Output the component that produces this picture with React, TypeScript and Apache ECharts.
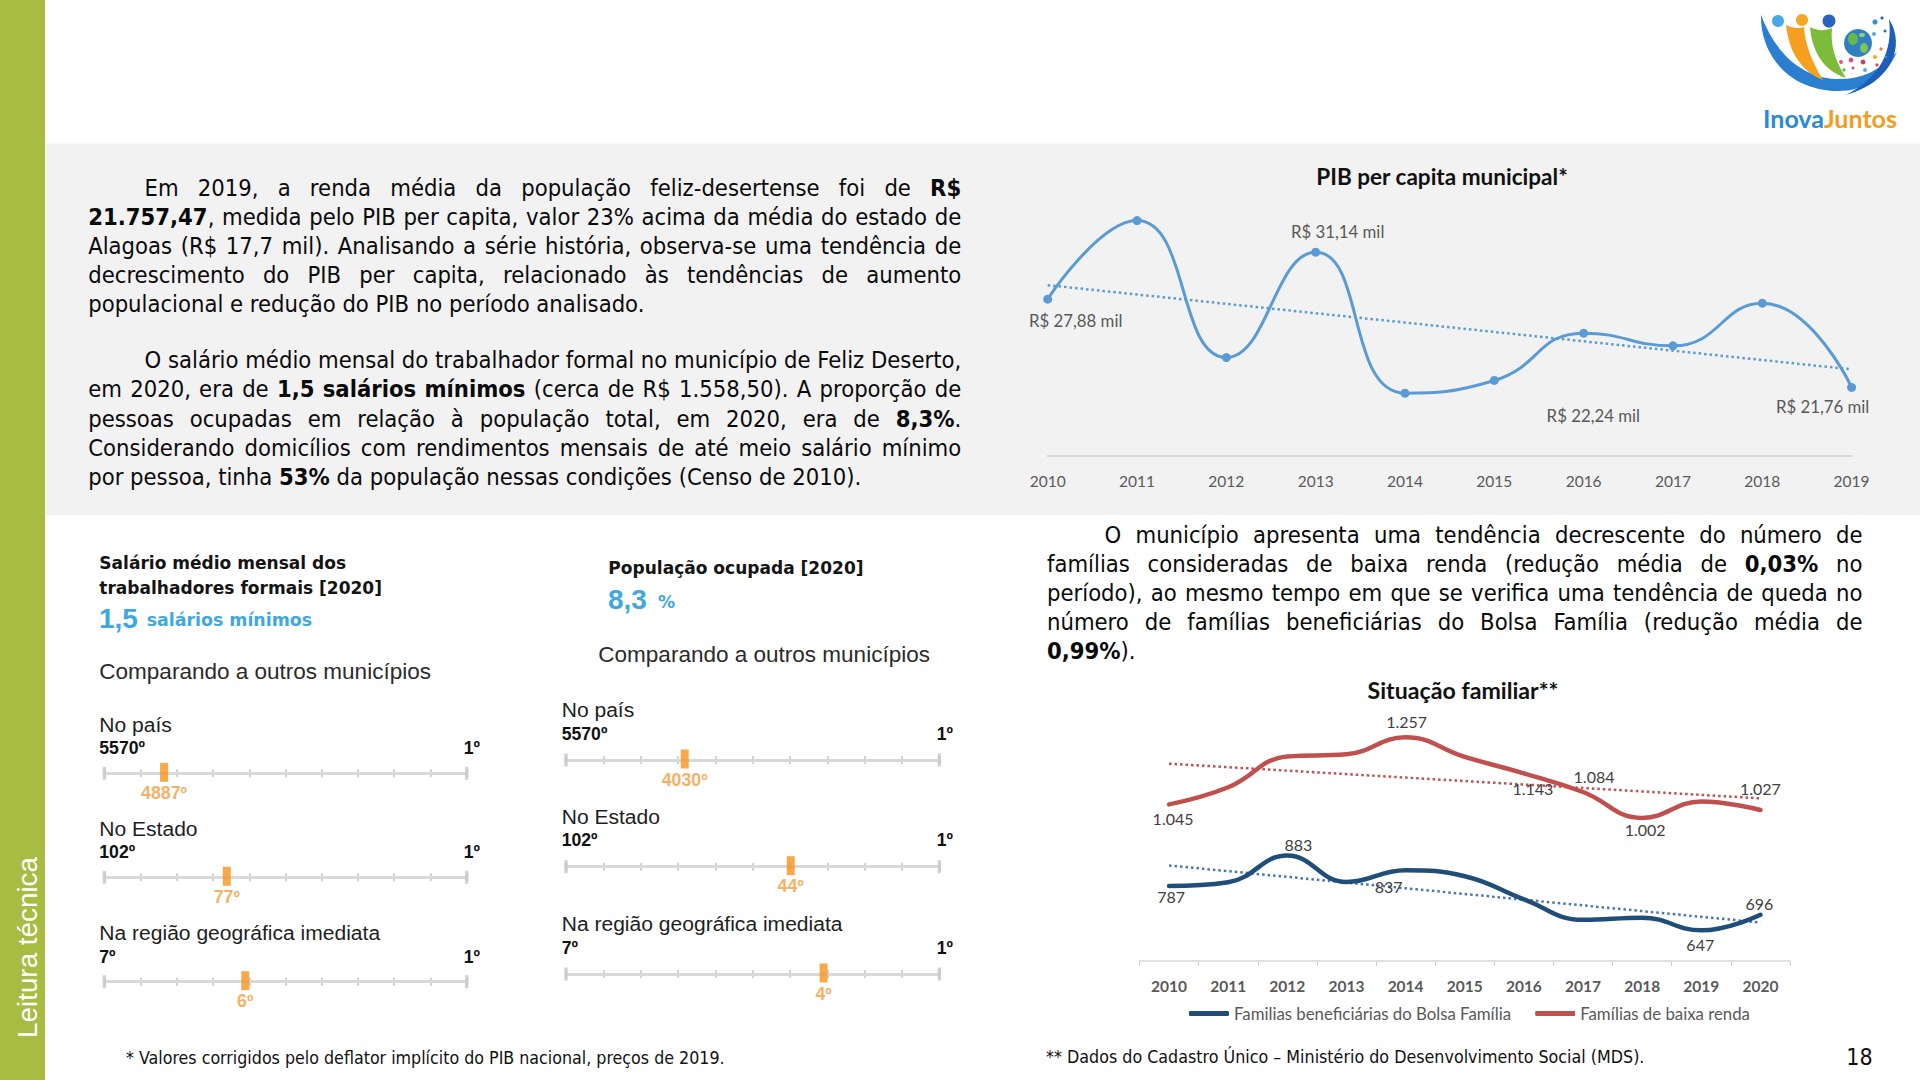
import React, { useEffect, useRef } from 'react';
import * as echarts from 'echarts';

// ---------------- DATA ----------------
const pibYears = ['2010', '2011', '2012', '2013', '2014', '2015', '2016', '2017', '2018', '2019'];
const pibValues = [27.88, 33.33, 23.83, 31.14, 21.36, 22.24, 25.52, 24.64, 27.6, 21.76];

const famYears = ['2010', '2011', '2012', '2013', '2014', '2015', '2016', '2017', '2018', '2019', '2020'];
const bolsaFamilia = [787, 799, 883, 800, 837, 818, 745, 680, 687, 647, 696];
const baixaRenda = [1045, 1099, 1196, 1203, 1257, 1195, 1143, 1084, 1002, 1054, 1027];
const famSeriesNames = ['Familias beneficiárias do Bolsa Família', 'Famílias de baixa renda'];

const rankScopes = ['No país', 'No Estado', 'Na região geográfica imediata'];
const rankTotals = ['5570º', '102º', '7º'];
const salarioRanks = ['4887º', '77º', '6º'];
const salarioScale = [16.5, 33.8, 38.9];
const ocupadaRanks = ['4030º', '44º', '4º'];
const ocupadaScale = [31.8, 60.2, 69.0];

const p1Lines = [
  'Em 2019, a renda média da população feliz-desertense foi de **R$**',
  '**21.757,47**, medida pelo PIB per capita, valor 23% acima da média do estado de',
  'Alagoas (R$ 17,7 mil). Analisando a série história, observa-se uma tendência de',
  'decrescimento do PIB per capita, relacionado às tendências de aumento',
  'populacional e redução do PIB no período analisado.',
];
const p2Lines = [
  'O salário médio mensal do trabalhador formal no município de Feliz Deserto,',
  'em 2020, era de **1,5 salários mínimos** (cerca de R$ 1.558,50). A proporção de',
  'pessoas ocupadas em relação à população total, em 2020, era de **8,3%**.',
  'Considerando domicílios com rendimentos mensais de até meio salário mínimo',
  'por pessoa, tinha **53%** da população nessas condições (Censo de 2010).',
];
const p3Lines = [
  'O município apresenta uma tendência decrescente do número de',
  'famílias consideradas de baixa renda (redução média de **0,03%** no',
  'período), ao mesmo tempo em que se verifica uma tendência de queda no',
  'número de famílias beneficiárias do Bolsa Família (redução média de',
  '**0,99%**).',
];

// -------------- label placement (style) --------------
const pibLabelOffsets: Record<number, number[]> = { 0: [28, 21], 3: [22, -21], 5: [99, 35], 9: [-29, 19] };
const rendaLabelOffsets: Record<number, number[]> = { 0: [4, 14], 4: [1, -16], 6: [9, 15], 7: [11, -16], 8: [3, 12], 10: [0, -22] };
const bolsaLabelOffsets: Record<number, number[]> = { 0: [2, 11], 2: [11, -11], 4: [-17, 16], 9: [-1, 14], 10: [-1, -11] };

const F_PARA = '"DejaVu Sans Condensed", "DejaVu Sans", sans-serif';
const F_CHART = 'Lato, "Open Sans", sans-serif';
const F_ARIAL = '"Liberation Sans", Arial, sans-serif';
const F_VERD = '"DejaVu Sans", Verdana, sans-serif';

function linearTrend(vals: number[]): number[] {
  const n = vals.length;
  const mx = (n - 1) / 2;
  const my = vals.reduce((a, b) => a + b, 0) / n;
  let sxy = 0, sxx = 0;
  vals.forEach((v, i) => { sxy += (i - mx) * (v - my); sxx += (i - mx) * (i - mx); });
  const b = sxy / sxx;
  return vals.map((_, i) => +(my + b * (i - mx)).toFixed(4));
}

let measureCtx: CanvasRenderingContext2D | null = null;
function tw(text: string, size: number, family: string, weight = 'normal') {
  if (!measureCtx) measureCtx = document.createElement('canvas').getContext('2d');
  measureCtx!.font = `${weight} ${size}px ${family}`;
  return measureCtx!.measureText(text).width;
}
function fit(text: string, family: string, weight: string, target: number) {
  return (20 * target) / tw(text, 20, family, weight);
}

type Run = { t: string; b: boolean };
function tokens(line: string): Run[][] {
  const parts = line.split('**');
  const toks: Run[][] = [[]];
  parts.forEach((p, i) => {
    const bold = i % 2 === 1;
    p.split(' ').forEach((piece, j) => {
      if (j > 0) toks.push([]);
      if (piece) toks[toks.length - 1].push({ t: piece, b: bold });
    });
  });
  return toks.filter((t) => t.length > 0);
}
function runW(r: Run, size: number) {
  return tw(r.t, size, F_PARA, r.b ? 'bold' : 'normal');
}
function naturalW(line: string, size: number) {
  const tk = tokens(line);
  const sp = tw(' ', size, F_PARA);
  return tk.reduce((s, t) => s + t.reduce((a, r) => a + runW(r, size), 0), 0) + sp * (tk.length - 1);
}

function txt(x: number, y: number, text: string, size: number, family: string, opt: any = {}) {
  return {
    type: 'text',
    x,
    y,
    rotation: opt.rotation || 0,
    silent: true,
    z: 5,
    style: {
      text,
      fontSize: size,
      fontFamily: family,
      fontWeight: opt.weight || 'normal',
      fill: opt.color || '#0d0d0d',
      textAlign: opt.align || 'left',
      align: opt.align || 'left',
      textVerticalAlign: 'middle',
      verticalAlign: 'middle',
    },
  };
}

function paragraph(lines: string[], x: number, width: number, y0: number, lh: number, indent: number, size: number) {
  const els: any[] = [];
  lines.forEach((line, li) => {
    const tk = tokens(line);
    const isLast = li === lines.length - 1;
    const startX = x + (li === 0 ? indent : 0);
    const avail = x + width - startX;
    const widths = tk.map((t) => t.reduce((a, r) => a + runW(r, size), 0));
    const total = widths.reduce((a, b) => a + b, 0);
    const sp = tw(' ', size, F_PARA);
    const gap = isLast || tk.length < 2 ? sp : (avail - total) / (tk.length - 1);
    let cx = startX;
    tk.forEach((t) => {
      t.forEach((r) => {
        els.push(txt(cx, y0 + li * lh, r.t, size, F_PARA, { weight: r.b ? 'bold' : 'normal', color: '#0a0a0a' }));
        cx += runW(r, size);
      });
      cx += gap;
    });
  });
  return els;
}

function labeled(values: number[], offsets: Record<number, number[]>) {
  return values.map((v, i) =>
    offsets[i]
      ? { value: v, label: { show: true, position: 'inside', offset: offsets[i] } }
      : { value: v, label: { show: false } }
  );
}

const logoPaths: Record<string, string> = {
  logoBlue: 'M21,15 C20,52 46,90 98,91 C124,91 145,78 157,52 C139,72 119,80 96,79 C60,77 35,52 21,15 Z',
  logoOrange: 'M46,25 C49,52 61,71 83,80 C72,62 65,44 64,27 C58,29 52,28 46,25 Z',
  logoGreen: 'M70,27 C72,52 84,71 106,78 C96,62 90,46 92,28 C85,31 77,31 70,27 Z',
  logoArc: 'M149,19 C166,46 152,82 106,95 C140,77 153,52 149,19 Z',
};

export default function App() {
  const ref = useRef<HTMLDivElement>(null);
  useEffect(() => {
    document.body.style.margin = '0';
    Object.keys(logoPaths).forEach((k) => {
      echarts.graphic.registerShape(k, echarts.graphic.extendPath(logoPaths[k], {}) as any);
    });
    const chart = echarts.init(ref.current!, undefined, { renderer: 'svg' });

    // paragraph font size: calibrated to reference line width, limited so justified lines fit
    let ps = fit(p2Lines[4].replace(/\*\*/g, ''), F_PARA, 'normal', 779);
    const paras = [
      { lines: p1Lines, x: 88.2, w: 873, ind: 56.3 },
      { lines: p2Lines, x: 88.2, w: 873, ind: 56.3 },
      { lines: p3Lines, x: 1047, w: 815.5, ind: 57.5 },
    ];
    paras.forEach((p) =>
      p.lines.forEach((l, i) => {
        if (i === p.lines.length - 1) return;
        const avail = p.w - (i === 0 ? p.ind : 0);
        const n = naturalW(l, ps);
        if (n > avail) ps = (ps * avail) / n;
      })
    );

    const g: any[] = [];
    // backgrounds
    g.push({ type: 'rect', z: -10, silent: true, shape: { x: 0, y: 0, width: 45, height: 1080 }, style: { fill: '#a8bb43' } });
    g.push({ type: 'rect', z: -10, silent: true, shape: { x: 45, y: 143.5, width: 1875, height: 371.5 }, style: { fill: '#f2f2f2' } });
    g.push(txt(27, 947.5, 'Leitura técnica', fit('Leitura técnica', F_ARIAL, 'normal', 181), F_ARIAL, { color: '#ffffff', align: 'center', rotation: Math.PI / 2 }));

    // paragraphs
    g.push(...paragraph(p1Lines, 88.2, 873, 187.5, 29.05, 56.3, ps));
    g.push(...paragraph(p2Lines, 88.2, 873, 360.4, 29.05, 56.3, ps));
    g.push(...paragraph(p3Lines, 1047, 815.5, 534.6, 29.05, 57.5, ps));

    // chart titles
    g.push(txt(1442, 176.7, 'PIB per capita municipal*', fit('PIB per capita municipal*', F_CHART, 'bold', 252), F_CHART, { weight: 'bold', align: 'center', color: '#111' }));
    g.push(txt(1463, 690, 'Situação familiar**', fit('Situação familiar**', F_CHART, 'bold', 191), F_CHART, { weight: 'bold', align: 'center', color: '#111' }));

    // IBGE blocks headers
    const hs = fit('Salário médio mensal dos', F_VERD, 'bold', 247);
    g.push(txt(99.3, 563.3, 'Salário médio mensal dos', hs, F_VERD, { weight: 'bold', color: '#141414' }));
    g.push(txt(99.3, 587.7, 'trabalhadores formais [2020]', hs, F_VERD, { weight: 'bold', color: '#141414' }));
    g.push(txt(99, 618, '1,5', 28, F_ARIAL, { color: '#3ea8e0', weight: 'bold' }));
    g.push(txt(146.7, 620, 'salários mínimos', fit('salários mínimos', F_VERD, 'bold', 165.6), F_VERD, { weight: 'bold', color: '#3ea8e0' }));
    g.push(txt(608.3, 568.3, 'População ocupada [2020]', hs, F_VERD, { weight: 'bold', color: '#141414' }));
    g.push(txt(608, 599.5, '8,3', 28, F_ARIAL, { color: '#3ea8e0', weight: 'bold' }));
    g.push(txt(658, 602, '%', hs, F_VERD, { weight: 'bold', color: '#3ea8e0' }));
    const cs = fit('Comparando a outros municípios', F_ARIAL, 'normal', 332);
    g.push(txt(99.3, 671.7, 'Comparando a outros municípios', cs, F_ARIAL, { color: '#2b2b2b' }));
    g.push(txt(598.3, 654, 'Comparando a outros municípios', cs, F_ARIAL, { color: '#2b2b2b' }));

    // slider blocks
    const blocks = [
      { x0: 104.3, x1: 466.7, ys: [773.3, 877.3, 981.7], tx: 99.3, bx: 480, titleDy: -49, rankDy: -25, ranks: salarioRanks, scale: salarioScale },
      { x0: 566, x1: 939.3, ys: [760, 866.7, 974], tx: 561.7, bx: 953, titleDy: -50.5, rankDy: -26.3, ranks: ocupadaRanks, scale: ocupadaScale },
    ];
    const ss = fit('Na região geográfica imediata', F_ARIAL, 'normal', 281);
    const rs = fit('5570º', F_ARIAL, 'bold', 45.7);
    const ms = fit('4887º', F_ARIAL, 'bold', 46);
    const grids: any[] = [];
    const xAxes: any[] = [];
    const yAxes: any[] = [];
    const series: any[] = [];

    // grid 0: PIB
    grids.push({ left: 1047.7, right: 68.4, top: 196.5, bottom: 624 });
    xAxes.push({
      gridIndex: 0, type: 'category', boundaryGap: false, data: pibYears,
      axisLine: { lineStyle: { color: '#d9d9d9', width: 2 } }, axisTick: { show: false },
      axisLabel: { color: '#595959', fontSize: 15.5, fontFamily: F_CHART, margin: 17 },
    });
    yAxes.push({ gridIndex: 0, type: 'value', min: 17, max: 35, show: false, splitLine: { show: false } });
    series.push({
      name: 'PIB per capita', type: 'line', xAxisIndex: 0, yAxisIndex: 0, data: labeled(pibValues, pibLabelOffsets),
      smooth: 0.5, symbol: 'circle', symbolSize: 9, z: 4,
      lineStyle: { color: '#5b9bd5', width: 3 }, itemStyle: { color: '#5b9bd5' },
      label: {
        color: '#595959', fontSize: 16.8, fontFamily: F_CHART,
        formatter: (p: any) => 'R$ ' + Number(p.value).toFixed(2).replace('.', ',') + ' mil',
      },
    });
    series.push({
      name: 'pib-trend', type: 'line', xAxisIndex: 0, yAxisIndex: 0, data: linearTrend(pibValues),
      symbol: 'none', z: 3, lineStyle: { color: '#5b9bd5', width: 2.5, type: [2.5, 3] },
    });

    // grid 1: Situação familiar
    grids.push({ left: 1139.5, right: 130, top: 692, bottom: 119 });
    xAxes.push({
      gridIndex: 1, type: 'category', boundaryGap: true, data: famYears,
      axisLine: { lineStyle: { color: '#d9d9d9', width: 1.5 } },
      axisTick: { show: true, length: 5, lineStyle: { color: '#d0d0d0' } },
      axisLabel: { color: '#595959', fontSize: 15.5, fontWeight: 'bold', fontFamily: F_CHART, margin: 17 },
    });
    yAxes.push({ gridIndex: 1, type: 'value', min: 550, max: 1400, show: false, splitLine: { show: false } });
    const famLabel = { color: '#404040', fontSize: 16, fontFamily: F_CHART, formatter: (p: any) => Number(p.value).toLocaleString('pt-BR') };
    series.push({
      name: famSeriesNames[0], type: 'line', xAxisIndex: 1, yAxisIndex: 1, data: labeled(bolsaFamilia, bolsaLabelOffsets),
      smooth: 0.45, symbol: 'circle', symbolSize: 1, z: 4,
      lineStyle: { color: '#1f4e79', width: 4.5, cap: 'round' }, itemStyle: { color: '#1f4e79' }, label: famLabel,
    });
    series.push({
      name: famSeriesNames[1], type: 'line', xAxisIndex: 1, yAxisIndex: 1, data: labeled(baixaRenda, rendaLabelOffsets),
      smooth: 0.45, symbol: 'circle', symbolSize: 1, z: 4,
      lineStyle: { color: '#c0504d', width: 4.5, cap: 'round' }, itemStyle: { color: '#c0504d' }, label: famLabel,
    });
    series.push({
      name: 'bolsa-trend', type: 'line', xAxisIndex: 1, yAxisIndex: 1, data: linearTrend(bolsaFamilia),
      symbol: 'none', z: 3, lineStyle: { color: '#4a73b8', width: 2.5, type: [2.5, 3] },
    });
    series.push({
      name: 'renda-trend', type: 'line', xAxisIndex: 1, yAxisIndex: 1, data: linearTrend(baixaRenda),
      symbol: 'none', z: 3, lineStyle: { color: '#c0504d', width: 2.5, type: [2.5, 3] },
    });

    blocks.forEach((b) => {
      b.ys.forEach((ly, i) => {
        g.push(txt(b.tx, ly + b.titleDy, rankScopes[i], ss, F_ARIAL, { color: '#1e1e1e' }));
        g.push(txt(b.tx, ly + b.rankDy, rankTotals[i], rs, F_ARIAL, { weight: 'bold', color: '#111' }));
        g.push(txt(b.bx, ly + b.rankDy, '1º', rs, F_ARIAL, { weight: 'bold', color: '#111', align: 'right' }));
        const gi = grids.length;
        grids.push({ left: b.x0, width: b.x1 - b.x0, top: ly - 4, height: 8 });
        xAxes.push({
          gridIndex: gi, type: 'value', min: 0, max: 100, interval: 10,
          axisLine: { show: true, onZero: true, lineStyle: { color: '#d9d9d9', width: 3 } },
          axisTick: { show: false }, axisLabel: { show: false },
          splitLine: { show: true, lineStyle: { color: '#c3c3c3', width: 1.5 } },
        });
        yAxes.push({ gridIndex: gi, type: 'value', min: -1, max: 1, show: false, splitLine: { show: false } });
        series.push({
          type: 'scatter', xAxisIndex: gi, yAxisIndex: gi, clip: false, silent: true,
          data: [[0, 0], [100, 0]], symbol: 'rect', symbolSize: [3.5, 13], itemStyle: { color: '#c8c8c8' }, z: 3,
        });
        series.push({
          type: 'scatter', xAxisIndex: gi, yAxisIndex: gi, clip: false, silent: true,
          data: [[b.scale[i], 0]], symbol: 'rect', symbolSize: [8, 19], symbolOffset: [0, -1],
          itemStyle: { color: '#f7941d' }, z: 4,
          label: {
            show: true, position: 'bottom', distance: 2, formatter: () => b.ranks[i],
            color: '#f59a38', fontSize: ms, fontWeight: 'bold', fontFamily: F_ARIAL,
          },
        });
      });
    });

    // footnotes
    g.push(txt(126, 1058, '* Valores corrigidos pelo deflator implícito do PIB nacional, preços de 2019.',
      fit('* Valores corrigidos pelo deflator implícito do PIB nacional, preços de 2019.', F_PARA, 'normal', 599), F_PARA, { color: '#111' }));
    g.push(txt(1046, 1057, '** Dados do Cadastro Único – Ministério do Desenvolvimento Social (MDS).',
      fit('** Dados do Cadastro Único – Ministério do Desenvolvimento Social (MDS).', F_PARA, 'normal', 599), F_PARA, { color: '#111' }));
    g.push(txt(1859.5, 1057, '18', 23, F_PARA, { color: '#111', align: 'center' }));

    // logo
    const LX = 1740;
    const logo: any[] = [
      { type: 'logoBlue', x: LX, y: 0, style: { fill: '#2a7fd0' } },
      { type: 'logoArc', x: LX, y: 0, style: { fill: '#1d5fb8' } },
      { type: 'logoOrange', x: LX, y: 0, style: { fill: '#f5a01e' } },
      { type: 'logoGreen', x: LX, y: 0, style: { fill: '#7dbb3a' } },
      { type: 'circle', shape: { cx: LX + 38, cy: 21, r: 6 }, style: { fill: '#4aa8e8' } },
      { type: 'circle', shape: { cx: LX + 62, cy: 20, r: 6 }, style: { fill: '#f5a623' } },
      { type: 'circle', shape: { cx: LX + 89, cy: 21, r: 6.5 }, style: { fill: '#2b62c0' } },
      { type: 'circle', shape: { cx: LX + 118, cy: 43, r: 14 }, style: { fill: '#2f7fc4' } },
      { type: 'ellipse', shape: { cx: LX + 113, cy: 39, rx: 5, ry: 6 }, style: { fill: '#69b84a' } },
      { type: 'ellipse', shape: { cx: LX + 124, cy: 48, rx: 4, ry: 5 }, style: { fill: '#7cc453' } },
      { type: 'ellipse', shape: { cx: LX + 122, cy: 35, rx: 3, ry: 2 }, style: { fill: '#9dd36a' } },
    ];
    const dots = [
      [135, 22, 2.6, '#3a8fd0'], [142, 18, 1.6, '#2b6cc4'], [134, 34, 2, '#5aaee8'], [145, 31, 1.5, '#1f6fc0'],
      [101, 62, 2, '#e05a7a'], [111, 60, 2.4, '#d04a8a'], [123, 62, 2.4, '#c03a6a'], [135, 57, 2, '#f5a623'],
      [141, 49, 1.6, '#f07a3a'], [104, 70, 1.6, '#5cb85c'], [125, 70, 2, '#5aaee8'], [137, 65, 1.6, '#e04a4a'],
      [113, 68, 1.4, '#a04ac0'], [146, 57, 1.3, '#3a8fd0'],
    ];
    dots.forEach((d: any) => logo.push({ type: 'circle', shape: { cx: LX + d[0], cy: d[1], r: d[2] }, style: { fill: d[3] } }));
    logo.forEach((e) => { e.silent = true; e.z = 5; });
    g.push(...logo);
    const ls = fit('InovaJuntos', F_CHART, 'bold', 134);
    g.push({
      type: 'text', x: LX + 90, y: 117.5, silent: true, z: 5,
      style: {
        text: '{a|Inova}{b|Juntos}', textAlign: 'center', align: 'center', textVerticalAlign: 'middle', verticalAlign: 'middle',
        fontSize: ls, fontWeight: 'bold', fontFamily: F_CHART,
        rich: {
          a: { fill: '#2a8ad8', color: '#2a8ad8', fontSize: ls, fontWeight: 'bold', fontFamily: F_CHART },
          b: { fill: '#f39c1f', color: '#f39c1f', fontSize: ls, fontWeight: 'bold', fontFamily: F_CHART },
        },
      },
    });

    chart.setOption({
      animation: false,
      grid: grids,
      xAxis: xAxes,
      yAxis: yAxes,
      legend: {
        data: famSeriesNames, left: 1184, top: 1000, itemWidth: 40, itemHeight: 5, icon: 'roundRect', itemGap: 24,
        selectedMode: false,
        textStyle: { color: '#595959', fontSize: 16.8, fontFamily: F_CHART },
      },
      series,
      graphic: { elements: g },
    });
    return () => chart.dispose();
  }, []);
  return <div ref={ref} style={{ width: 1920, height: 1080 }} />;
}
